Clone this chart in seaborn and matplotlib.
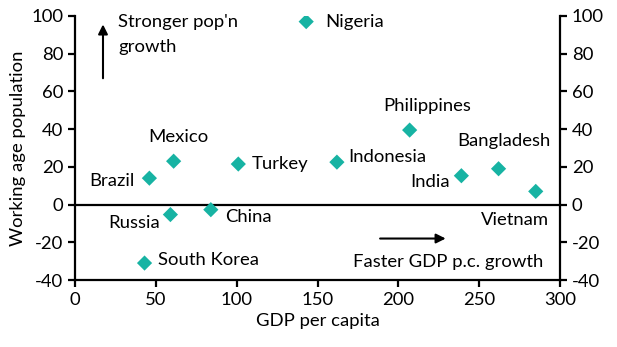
import matplotlib
matplotlib.use("Agg")
import matplotlib.pyplot as plt
import seaborn as sns
import pandas as pd

countries = ["Nigeria", "Philippines", "Bangladesh", "India", "Vietnam", "Indonesia",
             "Turkey", "Mexico", "Brazil", "Russia", "China", "South Korea"]
gdp_pc = [143, 207, 262, 239, 285, 162, 101, 61, 46, 59, 84, 43]
working_age = [97, 39.5, 19, 15.3, 7, 22.5, 21.5, 23, 14, -5.3, -2.7, -31]

df = pd.DataFrame({"country": countries, "gdp": gdp_pc, "wap": working_age})

sns.set_theme(style="white")
plt.rcParams['font.family'] = ['Lato', 'DejaVu Sans']
plt.rcParams['axes.unicode_minus'] = False

fig = plt.figure(figsize=(6.17, 3.47), dpi=100)
ax = fig.add_axes([0.1216, 0.193, 0.786, 0.761])
sns.scatterplot(data=df, x="gdp", y="wap", marker="D", s=60, color="#17b3a3",
                edgecolor="none", ax=ax, zorder=3)

ax.set_xlim(0, 300)
ax.set_ylim(-40, 100)
ax.set_xticks(range(0, 301, 50))
ax.set_yticks(range(-40, 101, 20))
ax.axhline(0, color="black", lw=1.6, zorder=2)

ax.spines["top"].set_visible(False)
for s in ["left", "right", "bottom"]:
    ax.spines[s].set_visible(True)
    ax.spines[s].set_color("black")
    ax.spines[s].set_linewidth(1.6)

ax.tick_params(axis="both", which="both", direction="out", length=5, width=1.6,
               color="black", labelsize=13.3, labelcolor="black")
ax.tick_params(axis="y", left=True, right=True, labelleft=True, labelright=True)
ax.tick_params(axis="x", bottom=True)
ax.set_xlabel("GDP per capita", fontsize=13.3, color="black")
ax.set_ylabel("Working age population", fontsize=13.3, color="black")

fs = 13.3
labels = {
    "Nigeria": (154.5, 97, "left", "center"),
    "Philippines": (218, 52, "center", "center"),
    "Bangladesh": (265, 33.5, "center", "center"),
    "India": (232, 12.2, "right", "center"),
    "Vietnam": (293.5, -8, "right", "center"),
    "Indonesia": (169, 25, "left", "center"),
    "Turkey": (109.5, 21.7, "left", "center"),
    "Mexico": (63.7, 36, "center", "center"),
    "Brazil": (36.5, 12.7, "right", "center"),
    "Russia": (52.6, -10, "right", "center"),
    "China": (92.8, -6.4, "left", "center"),
    "South Korea": (51.3, -29.2, "left", "center"),
}
for name, (x, y, ha, va) in labels.items():
    ax.text(x, y, name, ha=ha, va=va, fontsize=fs, color="black")

ax.text(26.6, 97, "Stronger pop'n", ha="left", va="center", fontsize=fs, color="black")
ax.text(26.6, 83.5, "growth", ha="left", va="center", fontsize=fs, color="black")
ax.annotate("", xy=(17.3, 97), xytext=(17.3, 65.5),
            arrowprops=dict(arrowstyle="-|>", color="black", lw=1.5, mutation_scale=14))
ax.annotate("", xy=(231, -18), xytext=(187, -18),
            arrowprops=dict(arrowstyle="-|>", color="black", lw=1.5, mutation_scale=14))
ax.text(289.5, -30.2, "Faster GDP p.c. growth", ha="right", va="center", fontsize=fs,
        color="black")

fig.savefig("out.png", dpi=100)
